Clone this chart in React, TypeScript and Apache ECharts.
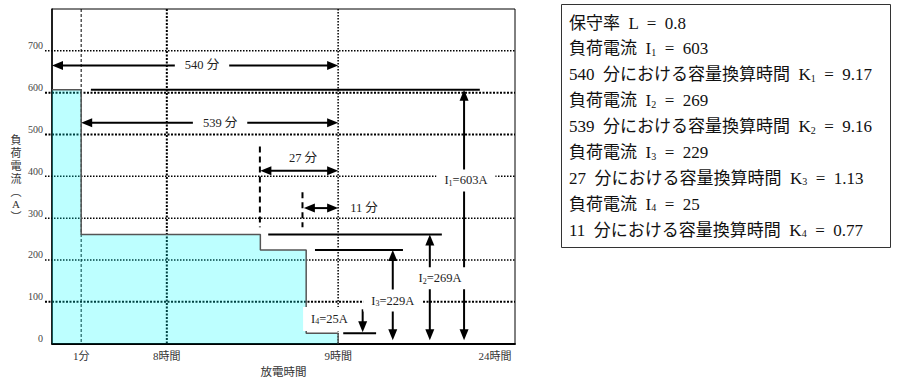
import React, { useEffect, useRef } from 'react';
import * as echarts from 'echarts';

// ---- axis ticks ----
const yTickValues = [0, 100, 200, 300, 400, 500, 600, 700];
const xTickPos = [6.3, 24.8, 61.8, 95.7];
const xTickLabels = ['1分', '8時間', '9時間', '24時間'];

// ---- load profile (as drawn in the picture) ----
const periodEdges = [0, 6.3, 45.0, 54.9, 61.8];
const plottedLevels = [607, 261, 224, 25];

// ---- values written on the figure ----
const currents = [603, 269, 229, 25];
const durations = [540, 539, 27, 11];
const kValues = ['9.17', '9.16', '1.13', '0.77'];
const maintenanceFactor = '0.8';

// ---- duration arrows ----
const spanStart = [0, 6.3, 45.0, 54.4];
const spanEnd = [61.8, 61.8, 61.8, 61.8];
const spanY = [665, 528, 413, 324];
const spanLabelX = [32.4, 36.3, 54.2, 64.4];
const spanLabelY = [665, 528, 443, 324];

// ---- level lines ----
const levelLineStart = [8.4, 46.7, 56.8, 62.9];
const levelLineEnd = [92.4, 84.2, 75.8, 70.0];

// ---- current arrows ----
const currentArrowX = [89.0, 81.6, 73.6, 67.1];
const currentArrowTop = [607, 261, 224, 82];
const currentArrowBottom = [8, 8, 8, 27];
const currentArrowTopHead = [true, true, true, false];
const currentLabelX = [89.4, 83.8, 73.6, 59.6];
const currentLabelY = [390, 156, 103, 59];

// ---- dashed period markers ----
const markerX = [44.9, 54.1];
const markerTop = [471, 362];
const markerBottom = [278, 278];

const FONT = "'Liberation Serif', 'DejaVu Serif', 'Noto Sans CJK JP', serif";

function App() {
  const ref = useRef<HTMLDivElement>(null);

  useEffect(() => {
    if (!ref.current) return;
    const chart = echarts.init(ref.current, null, { renderer: 'svg' });

    const areaData: number[][] = [];
    for (let i = 0; i < plottedLevels.length; i++) {
      areaData.push([periodEdges[i], plottedLevels[i]]);
      areaData.push([periodEdges[i + 1], plottedLevels[i]]);
    }
    areaData.push([periodEdges[periodEdges.length - 1], 0]);

    const seg = (p1: number[], p2: number[], style: any = {}) => ({
      type: 'line',
      shape: { x1: p1[0], y1: p1[1], x2: p2[0], y2: p2[1] },
      style: { stroke: '#000', lineWidth: 2, ...style },
    });

    const HEAD_LEN = 11;
    const HEAD_HALF = 4.5;
    const head = (tip: number[], ux: number, uy: number) => {
      const bx = tip[0] - ux * HEAD_LEN;
      const by = tip[1] - uy * HEAD_LEN;
      const px = -uy, py = ux;
      return {
        type: 'polygon',
        shape: { points: [[tip[0], tip[1]], [bx + px * HEAD_HALF, by + py * HEAD_HALF], [bx - px * HEAD_HALF, by - py * HEAD_HALF]] },
        style: { fill: '#000' },
      };
    };
    const arrow = (p1: number[], p2: number[], startHead: boolean, endHead: boolean) => {
      const dx = p2[0] - p1[0], dy = p2[1] - p1[1];
      const L = Math.hypot(dx, dy) || 1;
      const ux = dx / L, uy = dy / L;
      const s = startHead ? [p1[0] + ux * (HEAD_LEN - 1), p1[1] + uy * (HEAD_LEN - 1)] : p1;
      const e = endHead ? [p2[0] - ux * (HEAD_LEN - 1), p2[1] - uy * (HEAD_LEN - 1)] : p2;
      const out: any[] = [seg(s, e)];
      if (startHead) out.push(head(p1, -ux, -uy));
      if (endHead) out.push(head(p2, ux, uy));
      return out;
    };

    const richSmall = {
      m: { fontSize: 12.5, fontFamily: FONT, fill: '#222' },
      s: { fontSize: 8, fontFamily: FONT, fill: '#222', verticalAlign: 'bottom', padding: [6, 0, 0, 0] },
    };

    const renderGridLines = (params: any, api: any) => {
      const styles = [
        { lineWidth: 1, lineDash: [3, 2] },
        { lineWidth: 2, lineDash: [2, 1.5] },
        { lineWidth: 1.5, lineDash: [1.5, 1.5] },
      ];
      const children: any[] = styles.map((st, i) =>
        seg(api.coord([xTickPos[i], 800]), api.coord([xTickPos[i], 0]), { stroke: '#000', ...st })
      );
      // horizontal grid lines (with short outward ticks)
      for (let k = 1; k < yTickValues.length; k++) {
        const a = api.coord([0, yTickValues[k]]);
        const b = api.coord([100, yTickValues[k]]);
        const bold = yTickValues[k] === 600 || yTickValues[k] === 500 || yTickValues[k] === 100;
        children.push(seg([a[0] - 7, a[1]], b, { stroke: '#000', lineWidth: bold ? 2 : 1.5, lineDash: bold ? [2, 1.5] : [1.5, 1.5] }));
      }
      return { type: 'group', children };
    };

    const renderAnnotations = (params: any, api: any) => {
      const c = (x: number, y: number) => api.coord([x, y]);
      const children: any[] = [];
      for (let i = 0; i < markerX.length; i++) {
        children.push(seg(c(markerX[i], markerTop[i]), c(markerX[i], markerBottom[i]), { lineDash: [6, 4], lineWidth: 2 }));
      }
      for (let i = 0; i < levelLineStart.length; i++) {
        children.push(seg(c(levelLineStart[i], plottedLevels[i]), c(levelLineEnd[i], plottedLevels[i]), { lineWidth: 2 }));
      }
      for (let i = 0; i < spanStart.length; i++) {
        children.push(...arrow(c(spanStart[i], spanY[i]), c(spanEnd[i], spanY[i]), true, true));
      }
      for (let i = 0; i < currentArrowX.length; i++) {
        children.push(...arrow(c(currentArrowX[i], currentArrowTop[i]), c(currentArrowX[i], currentArrowBottom[i]), currentArrowTopHead[i], true));
      }
      for (let i = 0; i < durations.length; i++) {
        const p = c(spanLabelX[i], spanLabelY[i]);
        const withBg = i < 2;
        children.push({
          type: 'text',
          x: p[0],
          y: p[1],
          z2: 10,
          style: {
            text: `${durations[i]} 分`,
            fontSize: 12.5,
            fontFamily: FONT,
            fill: '#222',
            align: i === 3 ? 'left' : 'center',
            verticalAlign: 'middle',
            backgroundColor: withBg ? '#fff' : undefined,
            padding: withBg ? [4, 10] : 0,
          },
        });
      }
      for (let i = 0; i < currents.length; i++) {
        const p = c(currentLabelX[i], currentLabelY[i]);
        children.push({
          type: 'text',
          x: p[0],
          y: p[1],
          z2: 10,
          style: {
            text: `{m|I}{s|${i + 1}}{m|=${currents[i]}A}`,
            rich: richSmall,
            align: 'center',
            verticalAlign: 'middle',
            backgroundColor: '#fff',
            padding: i === 3 ? [5, 5, 5, 8] : [4, 8],
          },
        });
      }
      return { type: 'group', children };
    };

    const infoLines: string[] = [`{n|保守率  L  =  ${maintenanceFactor}}`];
    for (let i = 0; i < currents.length; i++) {
      infoLines.push(`{n|負荷電流  I}{s|${i + 1}}{n|  =  ${currents[i]}}`);
      infoLines.push(`{n|${durations[i]}  分における容量換算時間  K}{s|${i + 1}}{n|  =  ${kValues[i]}}`);
    }
    const infoRich = {
      n: { fontSize: 17, fontFamily: FONT, fill: '#111' },
      s: { fontSize: 10, fontFamily: FONT, fill: '#111', verticalAlign: 'bottom', padding: [7, 0, 0, 0] },
    };

    const graphic: any[] = [
      {
        type: 'rect',
        shape: { x: 561.5, y: 4.5, width: 329, height: 243 },
        style: { fill: '#fff', stroke: '#333', lineWidth: 1 },
      },
      ...infoLines.map((t, i) => ({
        type: 'text',
        x: 569,
        y: 23 + i * 25.9,
        style: { text: t, rich: infoRich, align: 'left', verticalAlign: 'middle' },
      })),
      {
        type: 'text',
        x: 16,
        y: 134,
        style: {
          text: '負\n荷\n電\n流\n︵\nA\n︶',
          fontSize: 11,
          lineHeight: 12.8,
          fontFamily: FONT,
          fill: '#333',
          align: 'center',
          verticalAlign: 'top',
        },
      },
    ];

    const option: any = {
      animation: false,
      backgroundColor: '#fff',
      grid: { left: 52, top: 9, width: 463, height: 343, show: true, borderColor: '#000', borderWidth: 1 },
      xAxis: {
        type: 'value',
        min: 0,
        max: 100,
        name: '放電時間',
        nameLocation: 'middle',
        nameGap: 19,
        nameTextStyle: { fontSize: 11.5, color: '#333', fontFamily: FONT },
        axisLine: { show: true, onZero: false, lineStyle: { color: '#000', width: 2 } },
        axisTick: { show: false },
        splitLine: { show: false },
        axisLabel: {
          customValues: xTickPos,
          formatter: (v: number) => {
            const idx = xTickPos.findIndex((p) => Math.abs(p - v) < 0.01);
            return idx >= 0 ? xTickLabels[idx] : '';
          },
          fontSize: 11,
          color: '#333',
          fontFamily: FONT,
          margin: 7,
        },
      },
      yAxis: {
        type: 'value',
        min: 0,
        max: 800,
        interval: 100,
        axisLine: { show: true, lineStyle: { color: '#000', width: 1.5 } },
        axisTick: { show: false },
        splitLine: { show: false },
        axisLabel: {
          formatter: (v: number) => (yTickValues.includes(v) ? String(v) : ''),
          fontSize: 10,
          color: '#444',
          fontFamily: FONT,
          margin: 9,
          verticalAlign: 'bottom',
        },
      },
      graphic,
      series: [
        {
          type: 'custom',
          z: 1,
          silent: true,
          clip: false,
          data: [[0, 0]],
          renderItem: renderGridLines,
        },
        {
          type: 'line',
          z: 2,
          data: areaData,
          symbol: 'none',
          lineStyle: { color: '#555', width: 1.5 },
          areaStyle: { color: 'rgba(0, 255, 255, 0.37)', origin: 0 },
          silent: true,
        },
        {
          type: 'custom',
          z: 3,
          silent: true,
          data: [[0, 0]],
          renderItem: renderAnnotations,
        },
      ],
    };

    chart.setOption(option);
    return () => chart.dispose();
  }, []);

  return <div ref={ref} style={{ position: 'fixed', left: 0, top: 0, width: 898, height: 383 }} />;
}

export default App;
